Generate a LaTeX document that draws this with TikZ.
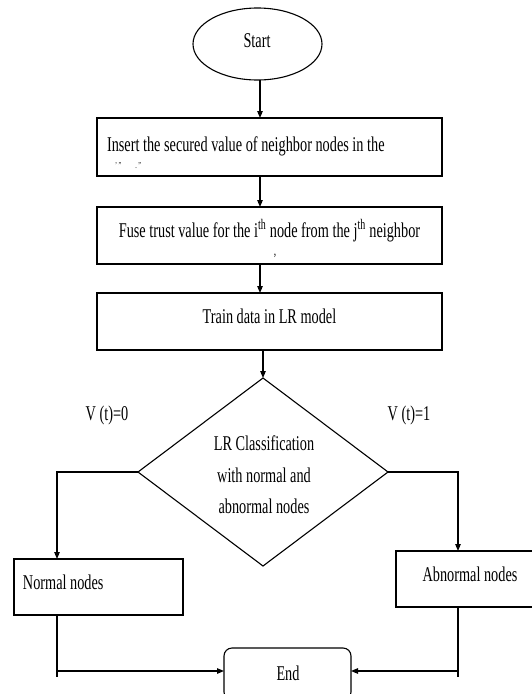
\documentclass[tikz,border=0pt]{standalone}
\usepackage{fontspec}
\setmainfont{Liberation Serif}[FakeStretch=0.68]
\usetikzlibrary{shapes.geometric,arrows.meta,calc}
\begin{document}
\begin{tikzpicture}[x=1pt,y=-1pt,
  every node/.style={font=\fontsize{21}{25}\selectfont,inner sep=0pt,outer sep=0pt},
  line/.style={line width=1.1pt},
  arr/.style={line width=1.1pt,-{Triangle[length=7pt,width=5.5pt]}},
  box/.style={draw,line width=1.1pt,rectangle},
  txt/.style={anchor=base},
]
\useasboundingbox (0,0) rectangle (532,694);
% shapes
\node[box,ellipse,minimum width=129,minimum height=72] (start) at (257.5,44) {};
\node[box,minimum width=345,minimum height=58] (b1) at (269.5,147) {};
\node[box,minimum width=345,minimum height=57] (b2) at (269.5,235.5) {};
\node[box,minimum width=345,minimum height=57] (b3) at (269.5,321.5) {};
\node[box,diamond,minimum width=250,minimum height=188] (d) at (263,472) {};
\node[box,minimum width=169,minimum height=56] (n) at (98.5,587) {};
\node[box,minimum width=144,minimum height=56] (a) at (468,579) {};
\node[box,rounded corners=8pt,minimum width=127,minimum height=52] (e) at (287.5,674) {};
% texts
\node[txt] (ts) at (257,47) {Start};
\node[anchor=base west] (t1) at (107,151) {Insert the secured value of neighbor nodes in the};
\node[anchor=base west,font=\fontsize{9}{9}\selectfont] (t1b) at (115,168) {'\,''\hspace{14pt}.\,''};
\node[txt] (t2) at (269.5,237) {Fuse trust value for the i\textsuperscript{th} node from the j\textsuperscript{th} neighbor};
\node[txt,font=\fontsize{14}{14}\selectfont] (t2b) at (275,255) {,};
\node[txt] (t3) at (269.5,323) {Train data in LR model};
\node[align=center,font=\fontsize{21}{31.5}\selectfont] (td) at (264,475) {LR Classification\\with normal and\\abnormal nodes};
\node (v0) at (107,415) {V (t)=0};
\node (v1) at (409,415) {V (t)=1};
\node[anchor=west] (tn) at (23,582) {Normal nodes};
\node (ta) at (470,574) {Abnormal nodes};
\node (te) at (288,673) {End};
% connectors
\coordinate (ax) at (260,0);
\coordinate (hy) at (0,671);
\coordinate (nl) at ($(n.south west)+(43,0)$);
\coordinate (ar) at ($(a.south west)+(62,0)$);
\draw[arr] (start.south -| ax) -- (b1.north -| ax);
\draw[arr] (b1.south -| ax) -- (b2.north -| ax);
\draw[arr] (b2.south -| ax) -- (b3.north -| ax);
\draw[arr] (b3.south -| d.north) -- (d.north);
\draw[arr] (d.west) -| ($(n.north west)+(43,0)$);
\draw[arr] (d.east) -| ($(a.north west)+(62,0)$);
\draw[line] (nl) -- ++(0,62);
\draw[line] (ar) -- ++(0,70);
\draw[arr] (nl |- hy) -- (e.west |- hy);
\draw[arr] (ar |- hy) -- (e.east |- hy);
\end{tikzpicture}
\end{document}
